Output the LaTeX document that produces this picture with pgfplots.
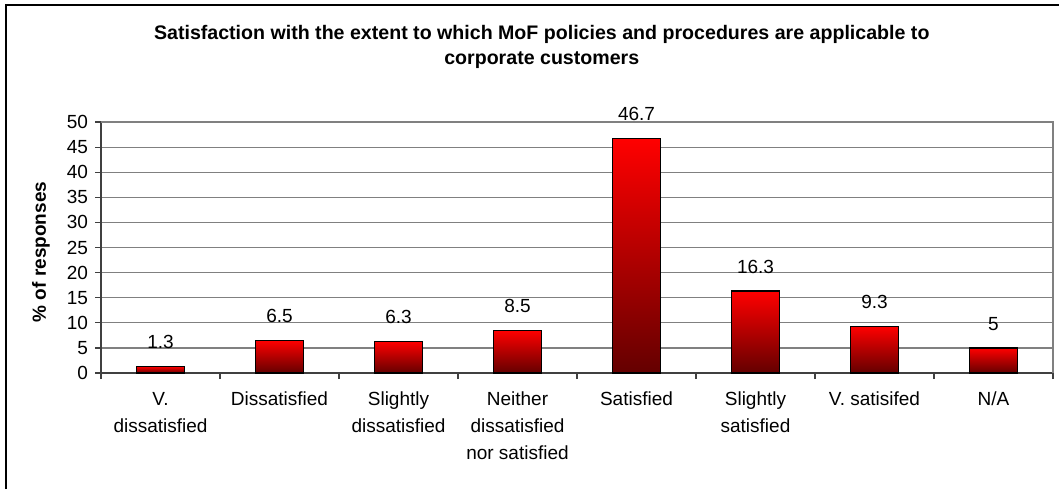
\documentclass[border=0pt]{standalone}
\usepackage{fontspec}
\setmainfont{Liberation Sans}
\usepackage{pgfplots}
\pgfplotsset{compat=1.18}
\definecolor{bardark}{RGB}{100,0,0}
\definecolor{gridgray}{RGB}{128,128,128}
\newcommand{\lblfont}{\fontsize{9.5}{13.5}\selectfont}
% each bar is its own plot so that the gradient runs over that bar only
\pgfplotsset{redbar/.style={ybar, bar width=24pt, bar shift=0pt, draw=black,
    line width=0.8pt, top color=red, bottom color=bardark}}
\begin{document}
\begin{tikzpicture}
\begin{axis}[
    at={(50.5pt,58pt)}, anchor=south west,
    scale only axis,
    width=476pt, height=125.5pt,
    /pgf/number format/assume math mode=true,
    xmin=0.5, xmax=8.5,
    ymin=0, ymax=50,
    ytick={0,5,...,50},
    xtick={1,...,8},
    xticklabels={V.\\dissatisfied, Dissatisfied, Slightly\\dissatisfied, Neither\\dissatisfied\\nor satisfied, Satisfied, Slightly\\satisfied, V. satisifed, N/A},
    minor xtick={0.5,1.5,...,8.5},
    major x tick style={draw=none},
    tick align=outside,
    major tick length=3pt,
    minor tick length=3pt,
    axis x line*=bottom, axis y line*=left,
    axis line style={black!75, line width=0.6pt},
    tick style={black!75, line width=0.6pt},
    ymajorgrids, grid style={gridgray, line width=0.6pt},
    tick label style={font=\lblfont},
    xticklabel style={align=center, yshift=-3pt},
    title={Satisfaction with the extent to which MoF policies and procedures are applicable to\\corporate customers},
    title style={at={(0.463,1.253)}, anchor=center, align=center, font=\bfseries\fontsize{9.8}{12.5}\selectfont},
    ylabel={\% of responses},
    ylabel style={at={(axis description cs:-0.063,0.482)}, anchor=center, font=\bfseries\lblfont},
    clip=false,
    nodes near coords,
    nodes near coords style={font=\lblfont, text=black, yshift=5pt},
]
\addplot[redbar] coordinates {(1,1.3)};
\addplot[redbar] coordinates {(2,6.5)};
\addplot[redbar] coordinates {(3,6.3)};
\addplot[redbar] coordinates {(4,8.5)};
\addplot[redbar] coordinates {(5,46.7)};
\addplot[redbar] coordinates {(6,16.3)};
\addplot[redbar] coordinates {(7,9.3)};
\addplot[redbar] coordinates {(8,5)};
\draw[gridgray, line width=0.6pt] (rel axis cs:0,1) -- (rel axis cs:1,1) -- (rel axis cs:1,0);
\end{axis}
\draw[black, line width=1.3pt] (3pt,0) -- (3pt,242pt) -- (530pt,242pt);
\pgfresetboundingbox
\path[use as bounding box] (0,0) rectangle (529.5pt,244.5pt);
\end{tikzpicture}
\end{document}
